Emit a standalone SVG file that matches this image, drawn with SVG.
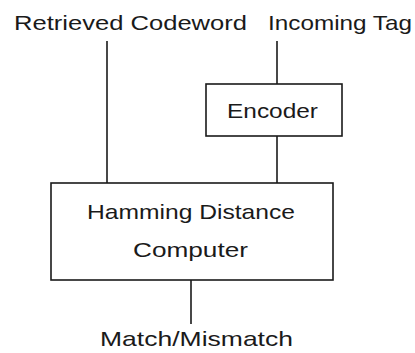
<svg xmlns="http://www.w3.org/2000/svg" width="415" height="353" viewBox="0 0 415 353">
<style>
text{font-family:"Liberation Sans",Arial,sans-serif;font-size:21px;fill:#1a1a1a}
.box{fill:#fff;stroke:#1a1a1a;stroke-width:1.6}
.ln{stroke:#1a1a1a;stroke-width:1.6;fill:none}
</style>
<rect width="415" height="353" fill="#fff"/>
<g id="connectors">
<line class="ln" x1="107" y1="41" x2="107" y2="183"/>
<line class="ln" x1="277" y1="41" x2="277" y2="84"/>
<line class="ln" x1="277" y1="136" x2="277" y2="183"/>
<line class="ln" x1="191" y1="280" x2="191" y2="324"/>
</g>
<g id="label-retrieved"><text x="14" y="30" textLength="233" lengthAdjust="spacingAndGlyphs">Retrieved Codeword</text></g>
<g id="label-incoming"><text x="268" y="30" textLength="144" lengthAdjust="spacingAndGlyphs">Incoming Tag</text></g>
<g id="encoder">
<rect class="box" x="206" y="84" width="136" height="52"/>
<text x="227" y="118" textLength="91" lengthAdjust="spacingAndGlyphs">Encoder</text>
</g>
<g id="hamming">
<rect class="box" x="51" y="183" width="282" height="97"/>
<text x="87" y="219" textLength="208" lengthAdjust="spacingAndGlyphs">Hamming Distance</text>
<text x="133" y="257" textLength="115" lengthAdjust="spacingAndGlyphs">Computer</text>
</g>
<g id="label-match"><text x="100" y="346" textLength="193" lengthAdjust="spacingAndGlyphs">Match/Mismatch</text></g>
</svg>
